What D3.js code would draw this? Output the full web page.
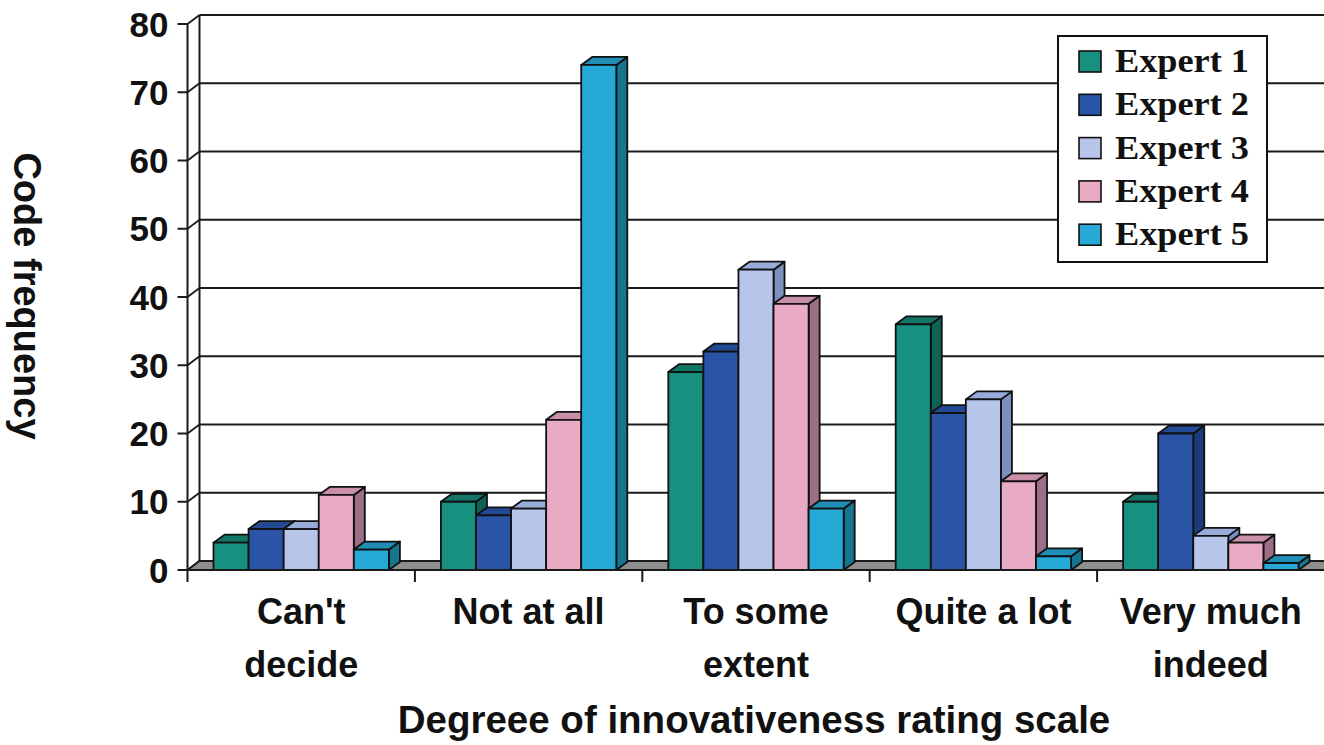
<!DOCTYPE html>
<html>
<head>
<meta charset="utf-8">
<script src="https://cdn.jsdelivr.net/npm/d3@7"></script>
<style>
  html, body { margin: 0; padding: 0; background: #ffffff; }
  svg { display: block; }
</style>
</head>
<body>
<svg id="chart" width="1324" height="745"></svg>
<script>
// Categories of the rating scale and the label lines drawn under each group
const categories = ["Can't decide", "Not at all", "To some extent", "Quite a lot", "Very much indeed"];
const categoryLines = [["Can't", "decide"], ["Not at all"], ["To some", "extent"], ["Quite a lot"], ["Very much", "indeed"]];

// Code frequency per expert, one value per category
const seriesNames = ["Expert 1", "Expert 2", "Expert 3", "Expert 4", "Expert 5"];
const expert1 = [4, 10, 29, 36, 10];
const expert2 = [6, 8, 32, 23, 20];
const expert3 = [6, 9, 44, 25, 5];
const expert4 = [11, 22, 39, 13, 4];
const expert5 = [3, 74, 9, 2, 1];
const seriesValues = [expert1, expert2, expert3, expert4, expert5];

const yTicks = [0, 10, 20, 30, 40, 50, 60, 70, 80];

// Face colours per series: front, top, side
const palette = [
  { front: "#17907f", top: "#137566", side: "#0d6356" },
  { front: "#2a55a6", top: "#234a94", side: "#1b3b7a" },
  { front: "#b7c5ea", top: "#99acd9", side: "#7d8fbe" },
  { front: "#e9aac3", top: "#c98ea8", side: "#9c6f86" },
  { front: "#27a9d6", top: "#1f8db4", side: "#167591" }
];

const svg = d3.select("#chart");

// Front plane geometry and depth offsets for the 3D look
const x0Left = 187.5, x0Right = 1324.5;
const yBottom = 570, yTop = 24;
const wallDx = 12, wallDy = -9;   // back wall offset
const barDx = 11, barDy = -8;     // bar depth

const y = d3.scaleLinear().domain([0, 80]).range([yBottom, yTop]);
const x0 = d3.scaleBand().domain(categories).range([x0Left, x0Right]).padding(0);
const groupPad = 26;
const x1 = d3.scaleBand().domain(seriesNames).range([groupPad, x0.bandwidth() - groupPad]).padding(0);

const lineColor = "#1a1a1a";

// Back wall gridlines and left wall diagonals
const grid = svg.append("g");
yTicks.forEach(t => {
  if (t > 0) {
    grid.append("line")
      .attr("x1", x0Left + wallDx).attr("x2", x0Right + wallDx)
      .attr("y1", y(t) + wallDy).attr("y2", y(t) + wallDy)
      .attr("stroke", lineColor).attr("stroke-width", 2);
  }
  grid.append("line")
    .attr("x1", x0Left).attr("x2", x0Left + wallDx)
    .attr("y1", y(t)).attr("y2", y(t) + wallDy)
    .attr("stroke", lineColor).attr("stroke-width", 1.8);
});
// back edge of the left wall
grid.append("line")
  .attr("x1", x0Left + wallDx).attr("x2", x0Left + wallDx)
  .attr("y1", y(80) + wallDy).attr("y2", y(0) + wallDy)
  .attr("stroke", lineColor).attr("stroke-width", 2);

// Floor
svg.append("path")
  .attr("d", d3.line()([
    [x0Left, y(0)], [x0Right + 20, y(0)],
    [x0Right + 20 + wallDx, y(0) + wallDy], [x0Left + wallDx, y(0) + wallDy]
  ]) + "Z")
  .attr("fill", "#8e8e8e")
  .attr("stroke", lineColor).attr("stroke-width", 1.8);

// Y axis: front vertical line, ticks and labels
const yAxis = svg.append("g");
yAxis.append("line")
  .attr("x1", x0Left).attr("x2", x0Left)
  .attr("y1", y(80)).attr("y2", y(0) + 12)
  .attr("stroke", lineColor).attr("stroke-width", 2);
yTicks.forEach(t => {
  yAxis.append("line")
    .attr("x1", x0Left - 10).attr("x2", x0Left)
    .attr("y1", y(t)).attr("y2", y(t))
    .attr("stroke", lineColor).attr("stroke-width", 2);
  yAxis.append("text")
    .attr("x", x0Left - 19).attr("y", y(t))
    .attr("dy", "0.36em")
    .attr("text-anchor", "end")
    .attr("font-family", "Liberation Sans, Arial, sans-serif")
    .attr("font-weight", "bold")
    .attr("font-size", 35)
    .attr("fill", "#111")
    .text(t);
});

// Bars, drawn group by group and left to right so each front face covers the previous side
const bars = svg.append("g");
categories.forEach((cat, ci) => {
  seriesNames.forEach((name, si) => {
    const v = seriesValues[si][ci];
    const xl = x0(cat) + x1(name);
    const w = x1.bandwidth();
    const yt = y(v), yb = y(0);
    const c = palette[si];
    const g = bars.append("g")
      .attr("stroke", "#111").attr("stroke-width", 1.8).attr("stroke-linejoin", "round");
    // side face
    g.append("path")
      .attr("d", d3.line()([[xl + w, yt], [xl + w + barDx, yt + barDy], [xl + w + barDx, yb + barDy], [xl + w, yb]]) + "Z")
      .attr("fill", c.side);
    // top face
    g.append("path")
      .attr("d", d3.line()([[xl, yt], [xl + barDx, yt + barDy], [xl + w + barDx, yt + barDy], [xl + w, yt]]) + "Z")
      .attr("fill", c.top);
    // front face
    g.append("rect")
      .attr("x", xl).attr("y", yt)
      .attr("width", w).attr("height", yb - yt)
      .attr("fill", c.front);
  });
});

// X axis front edge, category ticks and labels
const xAxis = svg.append("g");
xAxis.append("line")
  .attr("x1", x0Left).attr("x2", x0Right + 20)
  .attr("y1", y(0)).attr("y2", y(0))
  .attr("stroke", lineColor).attr("stroke-width", 2);
categories.forEach((cat, ci) => {
  if (ci > 0) {
    xAxis.append("line")
      .attr("x1", x0(cat)).attr("x2", x0(cat))
      .attr("y1", y(0)).attr("y2", y(0) + 12)
      .attr("stroke", lineColor).attr("stroke-width", 2);
  }
  const cx = x0(cat) + x0.bandwidth() / 2;
  const txt = xAxis.append("text")
    .attr("text-anchor", "middle")
    .attr("font-family", "Liberation Sans, Arial, sans-serif")
    .attr("font-weight", "bold")
    .attr("font-size", 36)
    .attr("fill", "#111");
  categoryLines[ci].forEach((ln, li) => {
    txt.append("tspan")
      .attr("x", cx)
      .attr("y", 624 + li * 53)
      .text(ln);
  });
});

// Axis titles
svg.append("text")
  .attr("x", 754).attr("y", 733)
  .attr("text-anchor", "middle")
  .attr("font-family", "Liberation Sans, Arial, sans-serif")
  .attr("font-weight", "bold")
  .attr("font-size", 38.5)
  .attr("fill", "#111")
  .text("Degreee of innovativeness rating scale");

svg.append("text")
  .attr("transform", "translate(14, 296) rotate(90)")
  .attr("text-anchor", "middle")
  .attr("font-family", "Liberation Sans, Arial, sans-serif")
  .attr("font-weight", "bold")
  .attr("font-size", 38)
  .attr("fill", "#111")
  .text("Code frequency");

// Legend
const legend = svg.append("g");
legend.append("rect")
  .attr("x", 1058).attr("y", 36)
  .attr("width", 209).attr("height", 226)
  .attr("fill", "#ffffff")
  .attr("stroke", "#111").attr("stroke-width", 2);
seriesNames.forEach((name, si) => {
  const base = 72 + si * 43.3;
  legend.append("rect")
    .attr("x", 1079).attr("y", base - 21)
    .attr("width", 22).attr("height", 21)
    .attr("fill", palette[si].front)
    .attr("stroke", "#111").attr("stroke-width", 1.6);
  legend.append("text")
    .attr("x", 1115).attr("y", base)
    .attr("font-family", "Liberation Serif, 'Times New Roman', serif")
    .attr("font-weight", "bold")
    .attr("font-size", 34)
    .attr("textLength", 134)
    .attr("lengthAdjust", "spacingAndGlyphs")
    .attr("fill", "#111")
    .text(name);
});
</script>
</body>
</html>
